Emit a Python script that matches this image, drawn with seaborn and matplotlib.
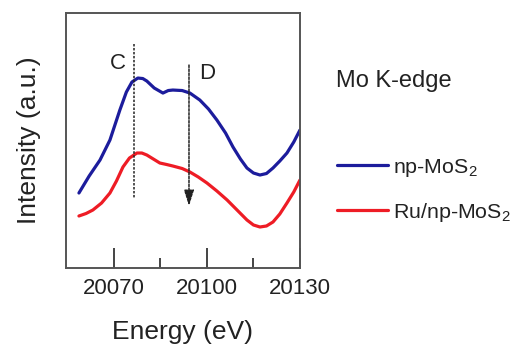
import numpy as np
import pandas as pd
import matplotlib
matplotlib.use("Agg")
import matplotlib.pyplot as plt
from matplotlib.lines import Line2D
import seaborn as sns

# Data (intensity in arbitrary units)
energy_np = [20058.7, 20062.0, 20065.5, 20068.7, 20071.9, 20074.0, 20075.8, 20077.7, 20079.3, 20080.6, 20083.0, 20085.8, 20087.5, 20089.0, 20092.0, 20094.5, 20097.7, 20100.5, 20103.2, 20106.0, 20108.4, 20110.8, 20112.9, 20115.0, 20117.1, 20119.2, 20121.3, 20123.5, 20125.8, 20128.0, 20130.0]
int_np = [0.75, 0.92, 1.08, 1.28, 1.58, 1.76, 1.86, 1.90, 1.895, 1.87, 1.80, 1.75, 1.775, 1.78, 1.775, 1.75, 1.68, 1.59, 1.48, 1.35, 1.21, 1.09, 1.00, 0.95, 0.93, 0.945, 1.00, 1.07, 1.15, 1.26, 1.38]
energy_ru = [20058.7, 20061.0, 20063.2, 20066.0, 20068.7, 20070.8, 20072.9, 20075.0, 20077.4, 20079.0, 20080.6, 20082.7, 20084.8, 20087.0, 20089.0, 20092.0, 20094.5, 20097.2, 20100.0, 20103.2, 20106.5, 20109.7, 20112.9, 20115.0, 20117.1, 20119.2, 20121.3, 20123.5, 20125.8, 20128.0, 20130.0]
int_ru = [0.52, 0.545, 0.58, 0.65, 0.75, 0.87, 1.01, 1.10, 1.15, 1.15, 1.13, 1.09, 1.05, 1.035, 1.02, 0.995, 0.96, 0.91, 0.85, 0.77, 0.68, 0.58, 0.48, 0.43, 0.41, 0.42, 0.46, 0.54, 0.65, 0.76, 0.88]
series = ["np-MoS$_2$", "Ru/np-MoS$_2$"]
colors = ["#1c1c9c", "#ee1c25"]
xticks = [20070, 20100, 20130]
minor_xticks = [20085, 20115]
line_C = 20076.4
arrow_D = 20094.2

sns.set_theme(style="white")
plt.rcParams['font.family'] = ['Liberation Sans', 'DejaVu Sans']
plt.rcParams['mathtext.fontset'] = 'custom'
plt.rcParams['mathtext.rm'] = 'Liberation Sans'
plt.rcParams['mathtext.it'] = 'Liberation Sans:italic'

df = pd.concat([
    pd.DataFrame({"Energy": energy_np, "Intensity": int_np, "Sample": series[0]}),
    pd.DataFrame({"Energy": energy_ru, "Intensity": int_ru, "Sample": series[1]}),
])

fig = plt.figure(figsize=(5.11, 3.44), dpi=100)
ax = fig.add_axes([0.129, 0.221, 0.458, 0.741])

sns.lineplot(data=df, x="Energy", y="Intensity", hue="Sample", palette=colors,
             linewidth=2.3, ax=ax, sort=True, estimator=None)

ax.set_xlim(20054.5, 20130)
ax.set_ylim(0, 2.55)
ax.set_xticks(xticks)
ax.set_xticks(minor_xticks, minor=True)
ax.set_yticks([])
ax.tick_params(axis='x', which='both', bottom=True, top=False)
ax.tick_params(axis='x', which='major', direction='in', length=14.4, width=1.4,
               color='#444444', labelsize=16, pad=7, labelcolor='#222222')
ax.tick_params(axis='x', which='minor', direction='in', length=7.2, width=1.4,
               color='#444444')
for s in ax.spines.values():
    s.set_color('#555555')
    s.set_linewidth(1.4)

ax.set_xlabel("Energy (eV)", fontsize=19, color='#222222', labelpad=15)
ax.set_ylabel("Intensity (a.u.)", fontsize=19, color='#222222', labelpad=18)

# Annotations
ax.plot([line_C, line_C], [2.24, 0.70], linestyle=(0, (1.6, 1.0)), color='#222222', linewidth=1.1)
ax.text(line_C - 5.0, 2.05, "C", fontsize=16, color='#222222', ha='center', va='center')
ax.annotate("", xy=(arrow_D, 0.62), xytext=(arrow_D, 2.03),
            arrowprops=dict(arrowstyle='-|>,head_length=0.95,head_width=0.3', linestyle=(0, (1.6, 1.0)),
                            color='#222222', linewidth=1.1, mutation_scale=10, shrinkA=0, shrinkB=0))
ax.text(arrow_D + 6.0, 1.95, "D", fontsize=16, color='#222222', ha='center', va='center')

# Legend
leg = ax.legend(handles=[Line2D([], [], color=colors[0], lw=2.3), Line2D([], [], color=colors[1], lw=2.3)],
                labels=series, loc='center left', bbox_to_anchor=(1.12, 0.305), frameon=False,
                fontsize=15.4, handlelength=2.4, handletextpad=0.25, labelspacing=1.05,
                borderaxespad=0)
for t in leg.get_texts():
    t.set_color('#222222')
fig.text(0.657, 0.765, "Mo K-edge", fontsize=17, color='#222222', va='center', ha='left')

fig.savefig("out.png", dpi=100)
